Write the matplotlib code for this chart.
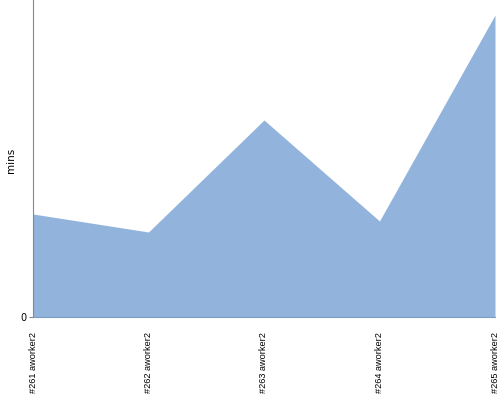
import numpy as np
import matplotlib
matplotlib.use("Agg")
import matplotlib.pyplot as plt

builds = ["#261 aworker2", "#262 aworker2", "#263 aworker2", "#264 aworker2", "#265 aworker2"]
mins = [10.3, 8.5, 19.7, 9.6, 30.2]
y_top = 31.7

fig = plt.figure(figsize=(5, 4), dpi=100)
ax = fig.add_axes([0.066, 0.2075, 0.924, 0.7925])

x = np.arange(len(builds))
ax.fill_between(x, 0, mins, color="#92b3dc", linewidth=0)
ax.set_xlim(x[0], x[-1])
ax.set_ylim(0, y_top)

ax.set_yticks([0])
ax.set_yticklabels(["0"], fontsize=7)
ax.set_xticks(x)
ax.set_xticklabels(builds, rotation=90, fontsize=6.6, va="top", ha="center",
                   family=["Liberation Sans Narrow", "Liberation Sans", "DejaVu Sans"])
ax.tick_params(axis="x", length=0, pad=11)
ax.tick_params(axis="y", length=3, color="#888888", pad=2)

ax.spines["top"].set_visible(False)
ax.spines["right"].set_visible(False)
ax.spines["left"].set_color("#888888")
ax.spines["bottom"].set_color("#7f9cc4")
fig.text(0.022, 0.6, "mins", rotation=90, fontsize=7.5, ha="center", va="center")

fig.savefig("out.png", dpi=100)
